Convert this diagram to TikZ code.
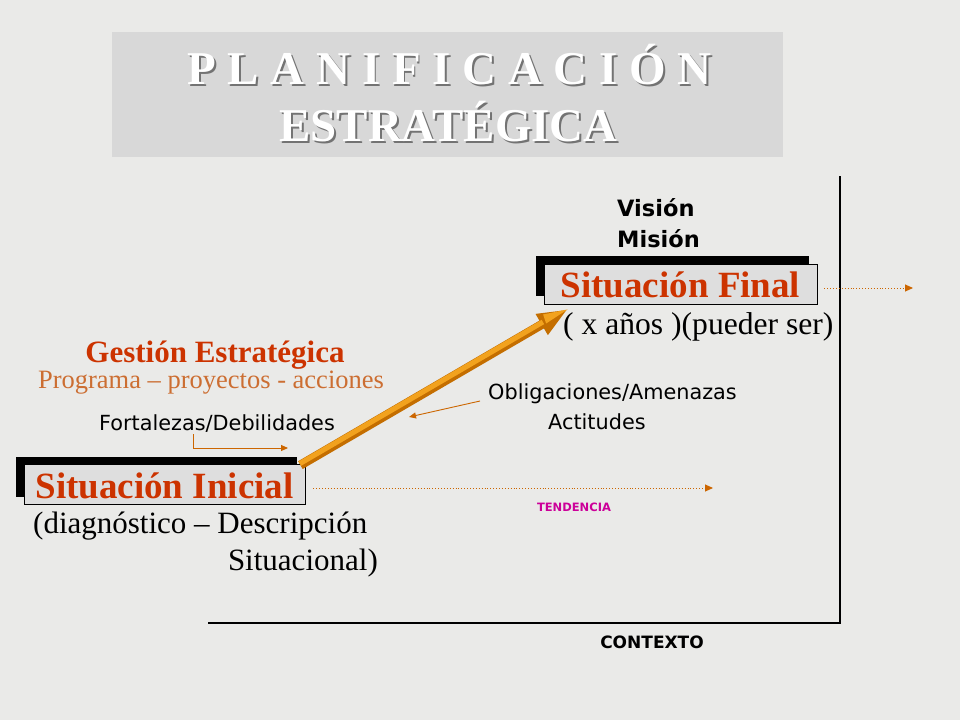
\documentclass[tikz,border=0pt]{standalone}
\usepackage{fontspec}
\setmainfont{Liberation Serif}
\newfontfamily\tah{DejaVu Sans}
\usetikzlibrary{arrows.meta,shadows,calc}
\definecolor{bg}{RGB}{234,234,232}
\definecolor{titlefill}{RGB}{216,216,216}
\definecolor{boxfill}{RGB}{222,222,222}
\definecolor{redtxt}{RGB}{204,51,0}
\definecolor{orangetxt}{RGB}{204,110,50}
\definecolor{lineor}{RGB}{204,102,0}
\definecolor{magtxt}{RGB}{204,0,153}
\definecolor{arrdark}{RGB}{196,110,0}
\definecolor{arrlight}{RGB}{242,162,30}
\newcommand{\shadowtext}[1]{\makebox[0pt][l]{\hspace{2pt}\raisebox{-2pt}{\textcolor{black!55}{#1}}}#1}
\tikzset{
  sitbox/.style={draw=black, line width=0.8pt, fill=boxfill, inner sep=2.5pt,
    text height=31pt, text depth=4pt, text=redtxt,
    font=\fontsize{37}{40}\selectfont\bfseries,
    general shadow={fill=black, shadow xshift=-8pt, shadow yshift=8pt}},
  titletxt/.style={text=white, font=\fontsize{47}{50}\selectfont\bfseries, inner sep=0pt, anchor=base},
  sertxt/.style={font=\fontsize{31}{34}\selectfont, inner sep=0pt},
  santxt/.style={font=\tah\fontsize{20.8}{23}\selectfont, inner sep=0pt},
  conn/.style={draw=lineor, line width=0.9pt, -{Triangle[length=7pt,width=6pt]}},
  dotconn/.style={draw=lineor, line width=0.9pt, dotted, -{Triangle[length=8pt,width=7pt]}},
  axis/.style={draw=black, line width=1.2pt}
}
\begin{document}
\begin{tikzpicture}[x=1pt,y=-1pt]
\useasboundingbox (0,0) rectangle (960,720);
\fill[bg] (0,0) rectangle (960,720);
% title
\node[fill=titlefill, minimum width=671pt, minimum height=125pt, inner sep=0pt] (tbox) at (447.5,94.5) {};
\node[titletxt] (t1) at (449.5,84) {\shadowtext{P L A N I F I C A C I Ó N}};
\node[titletxt] (t2) at (448.5,141) {\shadowtext{ESTRATÉGICA}};
% axes
\coordinate (axtop) at (840,176);
\coordinate (axcorner) at (840,623);
\coordinate (axleft) at (208,623);
\draw[axis] (axtop) -- (axcorner) -- (axleft);
% labels top right
\node[font=\tah\bfseries\fontsize{22.5}{25}\selectfont, inner sep=0pt, anchor=base west] (vision) at (617,216) {Visión};
\node[font=\tah\bfseries\fontsize{22.5}{25}\selectfont, inner sep=0pt, anchor=base west] (mision) at (617,247) {Misión};
% situation boxes
\node[sitbox, minimum width=273pt] (sf) at (680.5,284) {Situación Final};
\node[sertxt, font=\fontsize{31.6}{34}\selectfont, anchor=base west] (anos) at (563,334) {( x años )(pueder ser)};
\node[sitbox, minimum width=281pt] (si) at (164.5,484.5) {Situación Inicial};
\node[sertxt, anchor=base west] (diag) at (33,533) {(diagnóstico – Descripción};
\node[sertxt, anchor=base east] (sitc) at (378,570) {Situacional)};
% gestion
\node[font=\fontsize{31}{32}\selectfont\bfseries, text=redtxt, inner sep=0pt, text depth=0pt, anchor=base] (gest) at (215,362) {Gestión Estratégica};
\node[font=\fontsize{26.5}{29}\selectfont, text=orangetxt, inner sep=0pt, anchor=base] (prog) at (211,388) {Programa – proyectos - acciones};
\node[santxt, anchor=base] (fort) at (217,430) {Fortalezas/Debilidades};
\node[santxt, anchor=base west] (obl) at (488,399) {Obligaciones/Amenazas};
\node[santxt, anchor=base west] (act) at (548,429) {Actitudes};
\node[font=\tah\bfseries\fontsize{11.5}{13}\selectfont, text=magtxt, inner sep=0pt, anchor=base] (tend) at (574,511) {TENDENCIA};
\node[font=\tah\bfseries\fontsize{17}{19}\selectfont, inner sep=0pt, anchor=base] (ctx) at (652,648) {CONTEXTO};
% big arrow
\coordinate (ba1) at ($(si.north east)+(-5,1)$);
\coordinate (ba2) at ($(sf.south west)+(24,5)$);
\draw[draw=arrdark, line width=9pt, -{Triangle[length=30pt,width=22pt]}, arrdark] (ba1) -- (ba2);
\draw[draw=arrlight, line width=5pt, shorten >=28pt] ($(ba1)+(-0.5,-1.5)$) -- ($(ba2)+(-0.5,-1.5)$);
\fill[arrlight] (ba2) -- ($(ba2)!26pt!(ba1)+(-2,-8)$) -- ($(ba2)!26pt!(ba1)+(1,1)$) -- cycle;
% connectors
\coordinate (f1) at (193,434);
\coordinate (f2) at (288,448);
\draw[conn] (f1) |- (f2);
\coordinate (o1) at ($(obl.base west)+(-8,2)$);
\coordinate (o2) at (409,417);
\draw[conn] (o1) -- (o2);
\coordinate (d1) at ($(si.east)+(8,3.5)$);
\coordinate (d2) at (713,488);
\draw[dotconn] (d1) -- (d2);
\coordinate (e1) at ($(sf.east)+(7,4)$);
\coordinate (e2) at (913,288);
\draw[dotconn] (e1) -- (e2);
\end{tikzpicture}
\end{document}
